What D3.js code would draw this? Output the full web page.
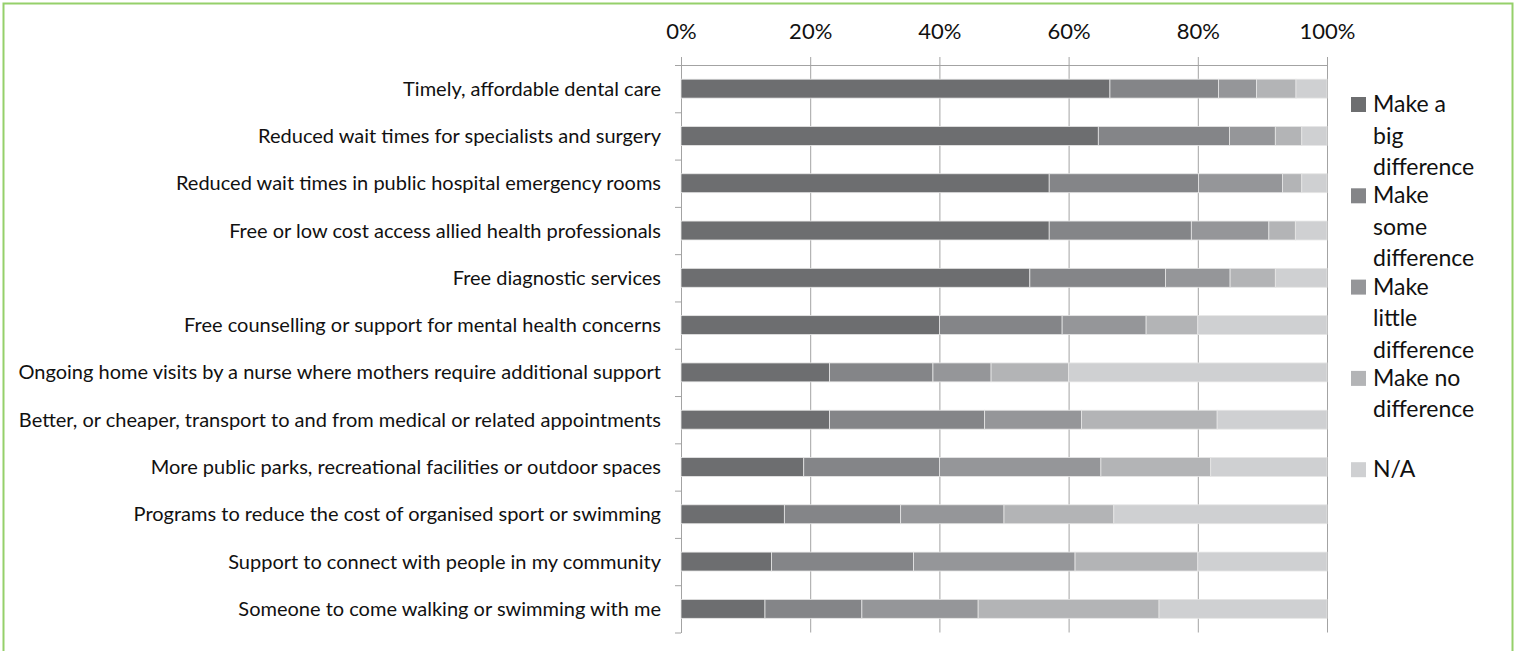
<!DOCTYPE html>
<html>
<head>
<meta charset="utf-8">
<script src="https://cdn.jsdelivr.net/npm/d3@7"></script>
<style>
  body { margin: 0; background: #fff; }
  text { font-family: Lato, "Open Sans", sans-serif; fill: #111; }
</style>
</head>
<body>
<div id="chart"></div>
<script>
// Categories (top to bottom)
const categories = [
  "Timely, affordable dental care",
  "Reduced wait times for specialists and surgery",
  "Reduced wait times in public hospital emergency rooms",
  "Free or low cost access allied health professionals",
  "Free diagnostic services",
  "Free counselling or support for mental health concerns",
  "Ongoing home visits by a nurse where mothers require additional support",
  "Better, or cheaper, transport to and from medical or related appointments",
  "More public parks, recreational facilities or outdoor spaces",
  "Programs to reduce the cost of organised sport or swimming",
  "Support to connect with people in my community",
  "Someone to come walking or swimming with me"
];

// Series names and their legend line breaks
const seriesNames = ["Make a big difference", "Make some difference", "Make little difference", "Make no difference", "N/A"];
const legendLines = [["Make a", "big", "difference"], ["Make", "some", "difference"], ["Make", "little", "difference"], ["Make no", "difference"], ["N/A"]];

// Percentages per series, in category order
const bigDiff    = [66.4, 64.6, 57, 57, 54, 40, 23, 23, 19, 16, 14, 13];
const someDiff   = [16.8, 20.3, 23.1, 22, 21, 19, 16, 24, 21, 18, 22, 15];
const littleDiff = [5.9, 7.1, 13, 12, 10, 13, 9, 15, 25, 16, 25, 18];
const noDiff     = [6.1, 4.1, 3, 4.1, 7, 8, 12, 21, 17, 17, 19, 28];
const notApplic  = [4.8, 3.9, 3.9, 4.9, 8, 20, 40, 17, 18, 33, 20, 26];

const tickValues = [0, 20, 40, 60, 80, 100];
const colors = ["#6d6e70", "#848588", "#959699", "#b3b4b6", "#cfd0d2"];

const W = 1517, H = 651;
const margin = {top: 65, right: 190, bottom: 18.5, left: 681};
const width = W - margin.left - margin.right,
      height = H - margin.top - margin.bottom;

const svg = d3.select("#chart").append("svg")
    .attr("width", W)
    .attr("height", H);

// green frame
svg.append("rect")
    .attr("x", 3.5).attr("y", 3.5)
    .attr("width", 1509).attr("height", 700)
    .attr("fill", "none")
    .attr("stroke", "#95d06a")
    .attr("stroke-width", 2);

const g = svg.append("g").attr("transform", `translate(${margin.left},${margin.top})`);

const x = d3.scaleLinear().domain([0, 100]).range([0, width]);
const y = d3.scaleBand().domain(categories).range([0, height]).paddingInner(0.6).paddingOuter(0.3);
const yIdx = d3.scaleLinear().domain([0, categories.length]).range([0, height]);

// Build rows for stacking
const rows = categories.map((c, i) => ({
  cat: c, s0: bigDiff[i], s1: someDiff[i], s2: littleDiff[i], s3: noDiff[i], s4: notApplic[i]
}));
const stack = d3.stack().keys(["s0", "s1", "s2", "s3", "s4"]);
const series = stack(rows);

// vertical gridlines
g.append("g")
    .attr("class", "grid")
    .call(d3.axisTop(x).tickValues(tickValues).tickSize(-height).tickFormat(""))
    .call(s => s.select(".domain").remove())
    .call(s => s.selectAll("line").attr("stroke", "#a3a3a3"));

// top axis
g.append("g")
    .call(d3.axisTop(x).tickValues(tickValues).tickSize(8).tickPadding(18).tickSizeOuter(0)
        .tickFormat(d => d + "%"))
    .call(s => s.select(".domain").attr("stroke", "#a3a3a3").attr("d", `M-6,0.5H${width}`))
    .call(s => s.selectAll("line").attr("stroke", "#a3a3a3"))
    .call(s => s.selectAll("text").attr("font-size", 22).attr("fill", "#111")
        .attr("font-family", "Lato, sans-serif"));

// left axis with ticks between categories
g.append("g")
    .call(d3.axisLeft(yIdx).tickValues(d3.range(categories.length + 1)).tickSize(6).tickFormat("").tickSizeOuter(0))
    .call(s => s.select(".domain").attr("stroke", "#a3a3a3"))
    .call(s => s.selectAll("line").attr("stroke", "#a3a3a3"));

// bars
g.selectAll(".series")
  .data(series)
  .join("g")
    .attr("class", "series")
    .attr("fill", (d, i) => colors[i])
  .selectAll("rect")
  .data(d => d)
  .join("rect")
    .attr("x", d => x(d[0]))
    .attr("y", d => y(d.data.cat))
    .attr("width", d => x(d[1]) - x(d[0]))
    .attr("height", y.bandwidth())
    .attr("stroke", "#e6e6e6")
    .attr("stroke-width", 0.8);

// category labels
g.selectAll(".cat")
  .data(categories)
  .join("text")
    .attr("class", "cat")
    .attr("x", -20)
    .attr("y", d => y(d) + y.bandwidth() / 2)
    .attr("dy", "0.35em")
    .attr("text-anchor", "end")
    .attr("font-size", 20)
    .text(d => d);

// legend
const legend = svg.append("g").attr("transform", "translate(1351,97)");
const item = legend.selectAll(".item")
  .data(seriesNames)
  .join("g")
    .attr("class", "item")
    .attr("transform", (d, i) => `translate(0,${i * 91.3})`);

item.append("rect")
    .attr("width", 15).attr("height", 15)
    .attr("fill", (d, i) => colors[i]);

item.append("text")
    .attr("x", 22)
    .attr("font-size", 23)
  .selectAll("tspan")
  .data((d, i) => legendLines[i])
  .join("tspan")
    .attr("x", 22)
    .attr("y", (d, j) => 15 + j * 31.5)
    .text(d => d);
</script>
</body>
</html>
